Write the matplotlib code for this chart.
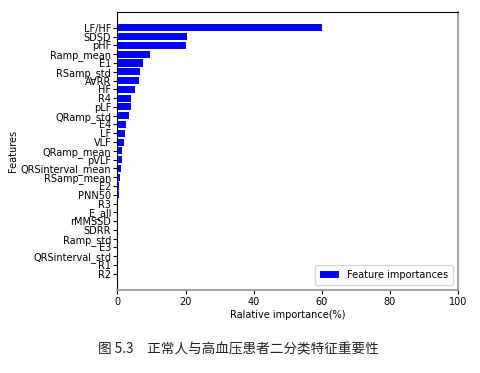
import matplotlib
matplotlib.use("Agg")
import matplotlib.pyplot as plt

features = ["LF/HF", "SDSD", "pHF", "Ramp_mean", "E1", "RSamp_std", "AVRR", "HF",
            "R4", "pLF", "QRamp_std", "E4", "LF", "VLF", "QRamp_mean", "pVLF",
            "QRSinterval_mean", "RSamp_mean", "E2", "PNN50", "R3", "E_all", "rMMSSD",
            "SDRR", "Ramp_std", "E3", "QRSinterval_std", "R1", "R2"]
importances = [60.0, 20.4, 20.0, 9.6, 7.6, 6.5, 6.2, 5.1,
               4.0, 3.9, 3.4, 2.4, 2.2, 2.0, 1.2, 1.2,
               1.0, 0.65, 0.45, 0.3, 0.05, 0.04, 0.03,
               0.02, 0.02, 0.01, 0.01, 0.0, 0.0]
xticks = [0, 20, 40, 60, 80, 100]

plt.rcParams['font.family'] = ['DejaVu Sans']
fig = plt.figure(figsize=(4.81, 3.73), dpi=100)
ax = fig.add_axes([117.5/481, 1-290/373, (457.7-117.5)/481, (290-11.7)/373])

n = len(features)
ypos = list(range(n))[::-1]
ax.barh(ypos, importances, height=0.8, color='blue', label='Feature importances')
ax.set_yticks(ypos)
ax.set_yticklabels(features, fontsize=7)
ax.set_xlim(0, 100)
ax.set_xticks(xticks)
ax.tick_params(axis='x', labelsize=7, length=3, width=0.8, pad=2)
ax.tick_params(axis='y', length=3, width=0.8, pad=1.5)
ax.set_xlabel('Ralative importance(%)', fontsize=7, labelpad=2)
ax.set_ylabel('Features', fontsize=7, labelpad=2)
ax.legend(loc='lower right', fontsize=7, handlelength=2.0, borderpad=0.5)
for s in ['right', 'bottom']:
    ax.spines[s].set_color('#999999')
    ax.spines[s].set_linewidth(1.3)

fig.text(238/481, 1-349/373, '图 5.3　正常人与高血压患者二分类特征重要性',
         ha='center', va='center', fontsize=9.8,
         family=['Noto Sans CJK SC', 'DejaVu Sans'], color='#222222')

fig.savefig('out.png', dpi=100)
